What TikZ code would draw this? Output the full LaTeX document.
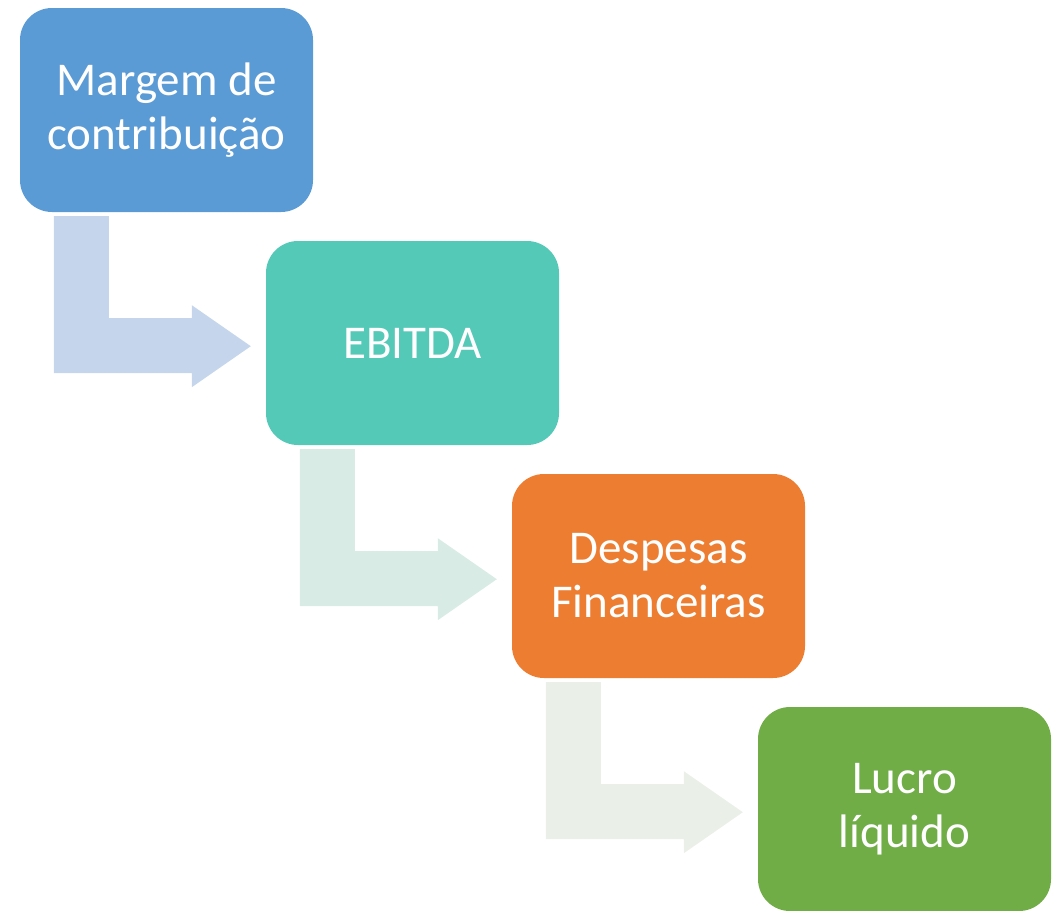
\documentclass[tikz,border=0pt]{standalone}
\usepackage{fontspec}
\setmainfont{Carlito}
\usepackage{tikz}
\usetikzlibrary{positioning}
\definecolor{boxA}{HTML}{5B9BD5}
\definecolor{boxB}{HTML}{54C9B8}
\definecolor{boxC}{HTML}{ED7D31}
\definecolor{boxD}{HTML}{70AD47}
\definecolor{arrowA}{HTML}{C5D5EB}
\definecolor{arrowB}{HTML}{D8ECE5}
\definecolor{arrowC}{HTML}{EAEFE7}
\tikzset{
    stage/.style={rectangle, rounded corners=32pt, minimum width=293pt, minimum height=204pt,
        align=center, text=white, font=\fontsize{47}{54}\selectfont, inner sep=0pt}
}

\begin{document}
\begin{tikzpicture}[x=1pt, y=-1pt]
            \useasboundingbox (0,0) rectangle (1056,910);
            \node[stage, fill=boxA] (margem) at (166.5,110) {Margem de\\contribuição};
            \node[stage, fill=boxB] (ebitda) at (412.5,343) {EBITDA};
            \node[stage, fill=boxC] (despesas) at (658.5,576) {Despesas\\Financeiras};
            \node[stage, fill=boxD] (lucro) at (904.5,809) {Lucro\\líquido};
            \foreach \a/\col in {margem/arrowA, ebitda/arrowB, despesas/arrowC} {
                \fill[\col, shift={(\a.south west)}] (34,4) -- (89,4) -- (89,106) -- (172,106)
                    -- (172,93) -- (231,134) -- (172,175) -- (172,161) -- (34,161) -- cycle;
            }
        \end{tikzpicture}
\end{document}
